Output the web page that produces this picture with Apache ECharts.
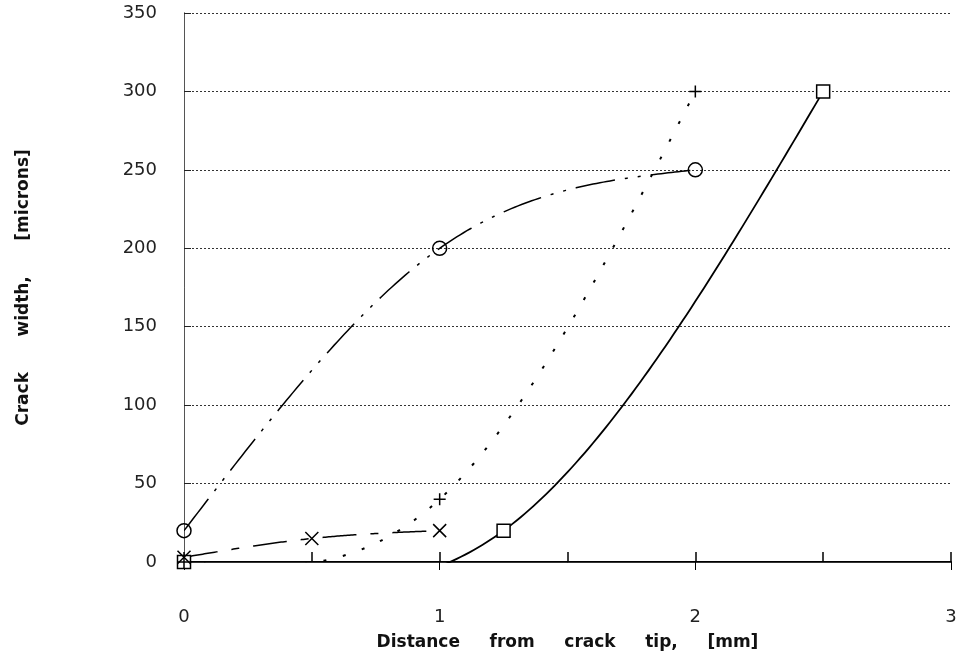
<!DOCTYPE html>
<html>
<head>
<meta charset="utf-8">
<script src="https://cdn.jsdelivr.net/npm/echarts@6/dist/echarts.min.js"></script>
<style>
  html, body { margin: 0; background: #fff; }
  #chart { width: 964px; height: 671px; }
</style>
</head>
<body>
<div id="chart"></div>
<script>
const circleX = [0, 1, 2];
const circleY = [20, 200, 250];
const plusX = [0, 1, 2];
const plusY = [0, 40, 300];
const crossX = [0, 0.5, 1];
const crossY = [3, 15, 20];
const squareX = [0, 1.25, 2.5];
const squareY = [0, 20, 300];

const xTickLabels = [0, 1, 2, 3];
const yTickLabels = [0, 50, 100, 150, 200, 250, 300, 350];

const FONT = 'DejaVu Sans';

const zip = (xs, ys) => xs.map((x, i) => [x, ys[i]]);

// second derivatives of a natural cubic spline
function splineM(xs, ys) {
  const n = xs.length;
  const m = new Array(n).fill(0);
  if (n < 3) return m;
  const a = [], b = [], c = [], d = [];
  for (let i = 1; i < n - 1; i++) {
    const h0 = xs[i] - xs[i - 1];
    const h1 = xs[i + 1] - xs[i];
    a.push(h0);
    b.push(2 * (h0 + h1));
    c.push(h1);
    d.push(6 * ((ys[i + 1] - ys[i]) / h1 - (ys[i] - ys[i - 1]) / h0));
  }
  const k = b.length;
  for (let i = 1; i < k; i++) {
    const w = a[i] / b[i - 1];
    b[i] -= w * c[i - 1];
    d[i] -= w * d[i - 1];
  }
  const sol = new Array(k);
  sol[k - 1] = d[k - 1] / b[k - 1];
  for (let i = k - 2; i >= 0; i--) sol[i] = (d[i] - c[i] * sol[i + 1]) / b[i];
  for (let i = 0; i < k; i++) m[i + 1] = sol[i];
  return m;
}

function splineAt(xs, ys, m, x) {
  let i = 0;
  while (i < xs.length - 2 && x > xs[i + 1]) i++;
  const h = xs[i + 1] - xs[i];
  const t0 = xs[i + 1] - x;
  const t1 = x - xs[i];
  return m[i] * t0 ** 3 / (6 * h) + m[i + 1] * t1 ** 3 / (6 * h)
    + (ys[i] / h - m[i] * h / 6) * t0 + (ys[i + 1] / h - m[i + 1] * h / 6) * t1;
}

// smooth curve through the points, drawn via the chart's own coord mapping
function curve(xs, ys, dash, width) {
  const m = splineM(xs, ys);
  return {
    type: 'custom',
    data: zip(xs, ys),
    silent: true,
    z: 2,
    renderItem(params, api) {
      if (params.dataIndex !== 0) return null;
      const pts = [];
      const x0 = xs[0], x1 = xs[xs.length - 1];
      const steps = 150;
      for (let s = 0; s <= steps; s++) {
        const x = x0 + (x1 - x0) * s / steps;
        pts.push(api.coord([x, splineAt(xs, ys, m, x)]));
      }
      const cs = params.coordSys;
      return {
        type: 'group',
        clipPath: { type: 'rect', shape: { x: cs.x, y: cs.y - 4, width: cs.width, height: cs.height + 5 } },
        children: [{
          type: 'polyline',
          shape: { points: pts },
          style: { stroke: '#000', fill: null, lineWidth: width, lineDash: dash }
        }]
      };
    }
  };
}

function markers(xs, ys, symbol, size, fill) {
  return {
    type: 'scatter',
    data: zip(xs, ys),
    symbol,
    symbolSize: size,
    silent: true,
    z: 3,
    itemStyle: { color: fill, borderColor: '#000', borderWidth: 1.5, opacity: 1 }
  };
}

const chart = echarts.init(document.getElementById('chart'));

chart.setOption({
  animation: false,
  backgroundColor: '#fff',
  grid: { left: 184, right: 13, top: 13, bottom: 109 },
  xAxis: [
    {
      type: 'value',
      min: 0,
      max: 3,
      interval: 0.5,
      position: 'bottom',
      name: 'Distance     from     crack     tip,     [mm]',
      nameLocation: 'middle',
      nameGap: 72,
      nameTextStyle: { fontFamily: FONT, fontSize: 17, fontWeight: 'bold', color: '#111' },
      axisLine: { onZero: false, lineStyle: { color: '#000', width: 2 } },
      axisTick: { inside: true, length: 10, lineStyle: { color: '#000', width: 1.5 } },
      axisLabel: {
        margin: 46,
        fontFamily: FONT,
        fontSize: 18,
        color: '#222',
        formatter: (v) => (xTickLabels.includes(v) ? String(v) : '')
      },
      splitLine: { show: false }
    },
    {
      type: 'value',
      min: 0,
      max: 3,
      interval: 1,
      position: 'top',
      axisLine: { lineStyle: { color: '#333', width: 1 } },
      axisTick: { inside: true, length: 8, lineStyle: { color: '#000' } },
      axisLabel: { show: false },
      splitLine: { show: false }
    }
  ],
  yAxis: [
    {
      type: 'value',
      min: 0,
      max: 350,
      interval: 50,
      name: 'Crack      width,      [microns]',
      nameLocation: 'middle',
      nameGap: 152,
      nameTextStyle: { fontFamily: FONT, fontSize: 17, fontWeight: 'bold', color: '#111' },
      axisLine: { lineStyle: { color: '#555', width: 1 } },
      axisTick: { inside: true, length: 7, lineStyle: { color: '#222' } },
      axisLabel: {
        margin: 27,
        fontFamily: FONT,
        fontSize: 18,
        color: '#222',
        formatter: (v) => (yTickLabels.includes(v) ? String(v) : '')
      },
      splitLine: { show: true, lineStyle: { color: '#333', type: [2, 2], width: 1 } }
    },
    {
      type: 'value',
      min: 0,
      max: 350,
      interval: 50,
      position: 'right',
      axisLine: { show: true, lineStyle: { color: '#555', width: 1 } },
      axisTick: { show: false },
      axisLabel: { show: false },
      splitLine: { show: false }
    }
  ],
  series: [
    curve(circleX, circleY, [40, 10, 3, 10, 3, 10], 1.5),
    curve(plusX, plusY, [3, 17], 2),
    curve(crossX, crossY, [34, 14, 8, 14], 1.5),
    curve(squareX, squareY, null, 1.8),
    markers(circleX, circleY, 'circle', 14, 'rgba(0,0,0,0)'),
    markers(squareX, squareY, 'rect', 13, '#fff'),
    markers(crossX, crossY, 'path://M0,0L10,10M10,0L0,10', 13, 'none'),
    markers(plusX, plusY, 'path://M5,0L5,10M0,5L10,5', 12, 'none')
  ]
});

window.addEventListener('resize', () => chart.resize());
</script>
</body>
</html>
